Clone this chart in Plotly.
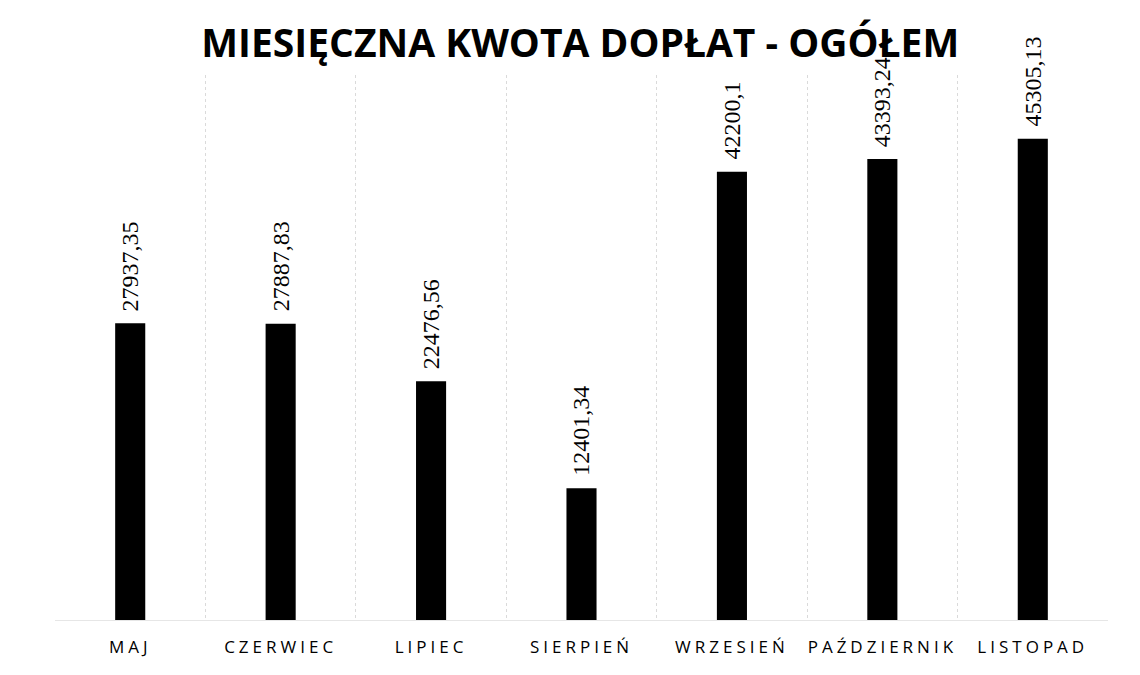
import plotly.graph_objects as go

months = ["MAJ", "CZERWIEC", "LIPIEC", "SIERPIEŃ", "WRZESIEŃ", "PAŹDZIERNIK", "LISTOPAD"]
amounts = [27937.35, 27887.83, 22476.56, 12401.34, 42200.1, 43393.24, 45305.13]
title_text = "MIESIĘCZNA KWOTA DOPŁAT - OGÓŁEM"

labels = [repr(v).replace(".", ",") for v in amounts]
tick_labels = ['<span style="letter-spacing:4px">' + m + '</span>' for m in months]

fig = go.Figure(go.Bar(
    x=months, y=amounts,
    marker=dict(color="#000000", line=dict(width=0)),
    width=0.2,
    cliponaxis=False,
    hoverinfo="x+y",
))

for m, v, t in zip(months, amounts, labels):
    fig.add_annotation(
        x=m, y=v, text=t, textangle=-90, showarrow=False,
        xanchor="center", yanchor="bottom", yshift=10,
        font=dict(family="Liberation Serif, Times New Roman, serif", size=24, color="#000000"),
    )

fig.update_layout(
    width=1140, height=675,
    paper_bgcolor="white", plot_bgcolor="white",
    margin=dict(l=47, r=40, t=67, b=63, autoexpand=False),
    title=dict(text="<b>" + title_text + "</b>", x=0.502, xanchor="center", y=0.948, yanchor="middle",
               font=dict(family="Open Sans, sans-serif", size=39, color="#000000")),
    showlegend=False,
)
fig.update_xaxes(
    tickmode="array", tickvals=months, ticktext=tick_labels, tickangle=0, automargin=False,
    tickson="boundaries", showgrid=True, gridcolor="#dadada", griddash="dot", gridwidth=1,
    ticks="", showline=True, linecolor="#e6e6e6", ticklabelstandoff=12,
    tickfont=dict(family="Open Sans, sans-serif", size=17, color="#000000"),
)
fig.update_yaxes(range=[0, 51300], visible=False, showgrid=False, automargin=False)

fig.write_html("out.html")
